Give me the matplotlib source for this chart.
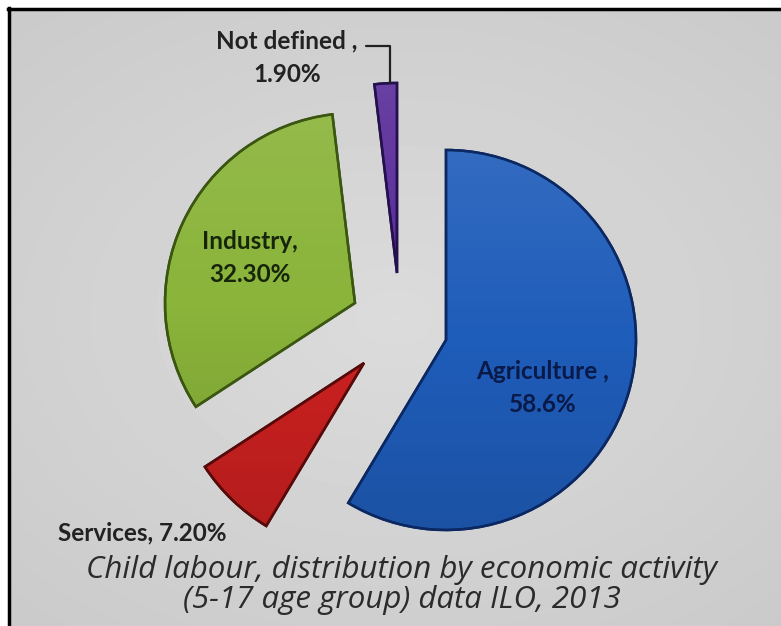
import numpy as np
import matplotlib.pyplot as plt
from matplotlib.patches import Wedge
from matplotlib.lines import Line2D

# data, clockwise from 12 o'clock
categories = ['Agriculture', 'Services', 'Industry', 'Not defined']
shares = [58.6, 7.2, 32.3, 1.9]
labels = ['Agriculture ,\n58.6%', 'Services, 7.20%', 'Industry,\n32.30%', 'Not defined ,\n1.90%']
title = 'Child labour, distribution by economic activity\n(5-17 age group) data ILO, 2013'

colors = ['#1f5dba', '#c92020', '#8ab43a', '#5a2d9a']
edges = ['#0b2862', '#560a0a', '#3a5610', '#24104c']
text_colors = ['#0a1a48', '#222222', '#17250a', '#222222']

W, H = 781, 626
CX, CY, R = 446, 340, 190   # pie centre / radius in pixels


def px(x, y):
    # image pixel -> data coords
    return (x - CX) / R, (CY - y) / R


# how far each slice is pulled out (pixels, image direction)
shifts = [(0, 0), (-82, 23), (-91, -37), (-49, -67)]
label_pos = [(543, 388), (142, 533), (250, 258), (287, 58)]

fig = plt.figure(figsize=(W / 100, H / 100), dpi=100, facecolor='white')

# grey backdrop, a bit lighter in the middle
bg = fig.add_axes([9 / W, 0, 1 - 9 / W, 1 - 9 / H])
yy, xx = np.mgrid[-1:1:200j, -1:1:200j]
shade = 0.86 - 0.05 * np.clip(np.hypot(xx * 0.9, yy), 0, 1.4)
bg.imshow(shade, cmap='gray', vmin=0, vmax=1, aspect='auto',
          extent=(0, 1, 0, 1), interpolation='bilinear')
bg.axis('off')

fig.add_artist(Line2D([8 / W, 1], [1 - 9 / H, 1 - 9 / H], color='black', lw=2.5, zorder=5))
fig.add_artist(Line2D([9 / W, 9 / W], [0, 1 - 8 / H], color='black', lw=2.5, zorder=5))

ax = fig.add_axes([0, 0, 1, 1])
ax.set_facecolor('none')

wedges, _ = ax.pie(shares, colors=colors, startangle=90, counterclock=False,
                   radius=1, wedgeprops=dict(linewidth=1.8))

# faint highlight on top, slightly darker toward the bottom
g = np.linspace(1, -1, 200)[:, None] * np.ones((1, 200))
glow = np.zeros((200, 200, 4))
glow[..., :3] = np.where(g[..., None] > 0, 1.0, 0.0)
glow[..., 3] = np.where(g > 0, 0.09 * g, 0.12 * -g)

for w, ec, (dx, dy) in zip(wedges, edges, shifts):
    w.set_edgecolor(ec)
    w.set_center((dx / R, -dy / R))
    cx, cy = w.center
    im = ax.imshow(glow, extent=(cx - 1, cx + 1, cy - 1, cy + 1),
                   interpolation='bilinear', zorder=w.get_zorder() + 0.1)
    im.set_clip_path(w)
    ax.add_patch(Wedge(w.center, w.r, w.theta1, w.theta2, fill=False,
                       edgecolor=ec, lw=1.8, zorder=w.get_zorder() + 0.2))

ax.set_xlim(-CX / R, (W - CX) / R)
ax.set_ylim((CY - H) / R, CY / R)
ax.set_aspect('auto')
ax.axis('off')

for lab, (x, y), c in zip(labels, label_pos, text_colors):
    ax.text(*px(x, y), lab, ha='center', va='center', fontsize=17.5,
            fontweight='bold', family='Lato', color=c, linespacing=1.55, zorder=5)

# leader line for the thin slice
nd = wedges[3]
ang = np.deg2rad(92)
top = (nd.center[0] + np.cos(ang), nd.center[1] + np.sin(ang))
ax.annotate('', xy=top, xytext=px(366, 46),
            arrowprops=dict(arrowstyle='-', color='#222222', lw=1.6,
                            connectionstyle='angle,angleA=0,angleB=90,rad=0',
                            shrinkA=0, shrinkB=0))

ax.text(*px(402, 585), title, ha='center', va='center', fontsize=22.5,
        style='italic', family='Open Sans', color='#2b2b2b', linespacing=1.03)

fig.savefig('out.png', dpi=100, facecolor=fig.get_facecolor())
